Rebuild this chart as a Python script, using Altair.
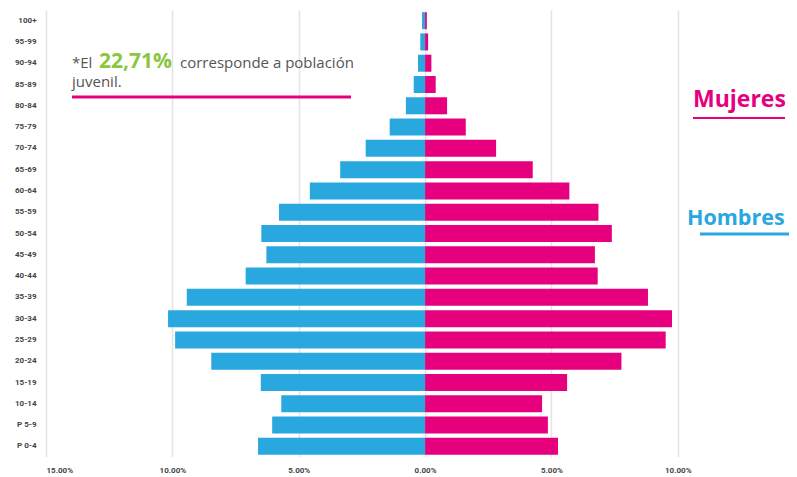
import altair as alt
import pandas as pd

groups = ["100+", "95-99", "90-94", "85-89", "80-84", "75-79", "70-74", "65-69",
          "60-64", "55-59", "50-54", "45-49", "40-44", "35-39", "30-34", "25-29",
          "20-24", "15-19", "10-14", "P 5-9", "P 0-4"]
hombres = [0.12, 0.19, 0.28, 0.45, 0.76, 1.40, 2.35, 3.36, 4.56, 5.78, 6.48,
           6.28, 7.10, 9.43, 10.17, 9.89, 8.46, 6.50, 5.69, 6.05, 6.61]
mujeres = [0.07, 0.12, 0.25, 0.42, 0.87, 1.61, 2.81, 4.26, 5.71, 6.86, 7.39,
           6.72, 6.83, 8.82, 9.77, 9.52, 7.77, 5.62, 4.63, 4.86, 5.26]
tick_values = [-15, -10, -5, 0, 5, 10]

BLUE = "#29a8e0"
PINK = "#e6007e"
GREEN = "#8cc63f"
GRAY = "#555555"
FONT = "Open Sans"
AXFONT = "Liberation Sans Narrow, Roboto, sans-serif"

rows = []
for g, h, m in zip(groups, hombres, mujeres):
    rows.append({"grupo": g, "sexo": "Hombres", "valor": -h})
    rows.append({"grupo": g, "sexo": "Mujeres", "valor": m})
df = pd.DataFrame(rows)

bars = alt.Chart(df).mark_bar().encode(
    y=alt.Y("grupo:N", sort=groups,
            scale=alt.Scale(paddingInner=0.2, paddingOuter=0.1),
            axis=alt.Axis(title=None, domain=False, ticks=False, grid=False,
                          labelFont=AXFONT, labelFontSize=8, labelFontWeight="bold",
                          labelColor="#444444", labelPadding=10)),
    x=alt.X("valor:Q", stack=None,
            scale=alt.Scale(domain=[-15, 14.40], nice=False, zero=True),
            axis=alt.Axis(title=None, values=tick_values, domain=False, ticks=False,
                          grid=True, gridColor="#e4e4e4", gridWidth=1.5,
                          labelExpr="format(abs(datum.value)/100, '.2%')",
                          labelFont=AXFONT, labelFontSize=8, labelFontWeight="bold",
                          labelColor="#444444", labelPadding=9)),
    color=alt.Color("sexo:N", scale=alt.Scale(domain=["Hombres", "Mujeres"],
                                              range=[BLUE, PINK]), legend=None),
)

one = alt.Data(values=[{}])

def txt(text, x, y, size, color, weight="normal"):
    return alt.Chart(one).mark_text(
        text=text, align="left", baseline="alphabetic", font=FONT,
        fontSize=size, fontWeight=weight, color=color
    ).encode(x=alt.value(x), y=alt.value(y))

def rule(x1, x2, y, color, w):
    return alt.Chart(one).mark_rule(color=color, strokeWidth=w).encode(
        x=alt.value(x1), x2=alt.value(x2), y=alt.value(y))

annot = [
    txt("*El", 26, 58, 15, GRAY),
    txt("22,71%", 53, 58, 21, GREEN, "bold"),
    txt("corresponde a población", 134, 58, 15, GRAY),
    txt("juvenil.", 26, 77, 15, GRAY),
    rule(26, 305, 87, PINK, 3),
    txt("Mujeres", 647, 97, 23, PINK, "bold"),
    rule(647, 739, 108, PINK, 2),
    txt("Hombres", 641, 215, 21.5, BLUE, "bold"),
    rule(654, 743, 224, BLUE, 3),
]

chart = alt.layer(bars, *annot).properties(
    width=743, height=447,
    autosize=alt.AutoSizeParams(type="none"),
    padding={"left": 38, "top": 2, "right": 0, "bottom": 18},
).configure_view(stroke=None)

chart.save("out.html", embed_options={"renderer": "svg", "actions": False})
